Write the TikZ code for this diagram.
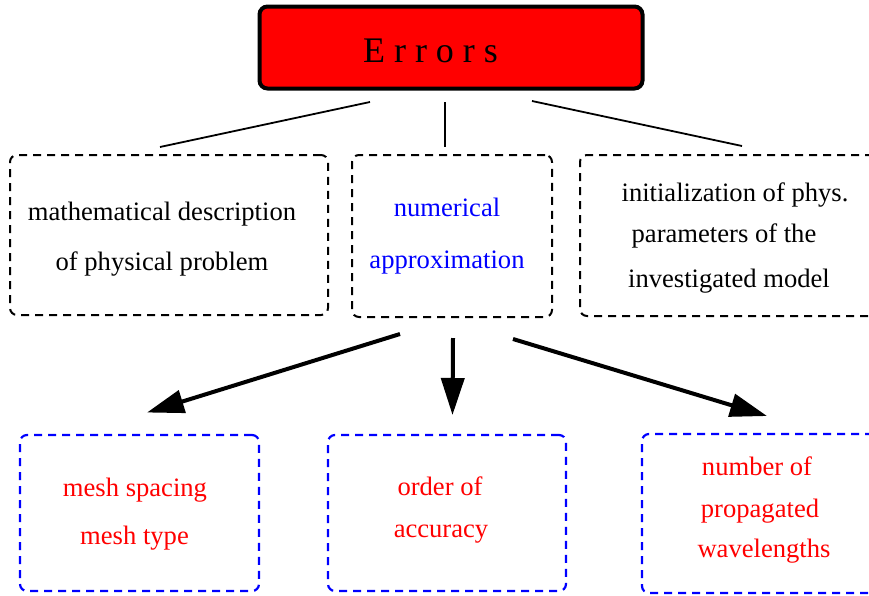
\documentclass[tikz,border=0pt]{standalone}
\usepackage{fontspec}
\setmainfont{Liberation Serif}
\usetikzlibrary{arrows.meta}
\begin{document}
\begin{tikzpicture}[x=1pt,y=-1pt,
  every node/.style={inner sep=0pt, outer sep=0pt},
  txt/.style={font=\fontsize{26.6}{30}\selectfont, anchor=base},
  bigtxt/.style={font=\fontsize{36}{40}\selectfont, anchor=base},
  blackbox/.style={draw=black, line width=2pt, dash pattern=on 8pt off 6pt, rounded corners=7pt},
  bluebox/.style={draw=blue, line width=2.2pt, dash pattern=on 8pt off 6pt, rounded corners=7pt},
  errbox/.style={draw=black, fill=red, line width=4pt, rounded corners=8pt},
  link/.style={line width=1.8pt},
  arr/.style={line width=4pt, -{Triangle[length=37pt,width=23pt]}}
]
\useasboundingbox (0,0) rectangle (869,595);

% top box
\node[errbox, minimum width=383pt, minimum height=82pt] (err) at (451,47.5) {};
\node[bigtxt] (errt) at (430.5,62) {E r r o r s};

% middle row
\node[blackbox, minimum width=318pt, minimum height=160pt] (math) at (169,235) {};
\node[txt] (math1) at (162,220) {mathematical description};
\node[txt] (math2) at (162,270.5) {of physical problem};

\node[blackbox, minimum width=200pt, minimum height=162pt] (num) at (452,236) {};
\node[txt, text=blue] (num1) at (447,216.5) {numerical};
\node[txt, text=blue] (num2) at (447,268) {approximation};

\node[blackbox, minimum width=300pt, minimum height=161pt] (init) at (730,235.5) {};
\node[txt] (init1) at (735,201) {initialization of phys.};
\node[txt] (init2) at (724,242) {parameters of the};
\node[txt] (init3) at (729,287) {investigated model};

% bottom row
\node[bluebox, minimum width=239pt, minimum height=156pt] (mesh) at (139.5,513) {};
\node[txt, text=red] (mesh1) at (135,496) {mesh spacing};
\node[txt, text=red] (mesh2) at (134.5,544) {mesh type};

\node[bluebox, minimum width=238pt, minimum height=156pt] (ord) at (447,513) {};
\node[txt, text=red] (ord1) at (440,495) {order of};
\node[txt, text=red] (ord2) at (441,537) {accuracy};

\node[bluebox, minimum width=238pt, minimum height=159pt] (wav) at (761,513.5) {};
\node[txt, text=red] (wav1) at (757,475) {number of};
\node[txt, text=red] (wav2) at (760,517) {propagated};
\node[txt, text=red] (wav3) at (764,557) {wavelengths};

% connector end points
\coordinate (l1s) at (370,102);
\coordinate (l1e) at (160,147);
\coordinate (l2s) at (445,102);
\coordinate (l2e) at (445,147);
\coordinate (l3s) at (532,101);
\coordinate (l3e) at (742,146);

\coordinate (a1s) at (400,334);
\coordinate (a1e) at (147,412.5);
\coordinate (a2s) at (453,338);
\coordinate (a2e) at (452.5,415);
\coordinate (a3s) at (513,339);
\coordinate (a3e) at (767,416);

\draw[link] (l1s) -- (l1e);
\draw[link] (l2s) -- (l2e);
\draw[link] (l3s) -- (l3e);

\draw[arr] (a1s) -- (a1e);
\draw[arr] (a2s) -- (a2e);
\draw[arr] (a3s) -- (a3e);
\end{tikzpicture}
\end{document}
